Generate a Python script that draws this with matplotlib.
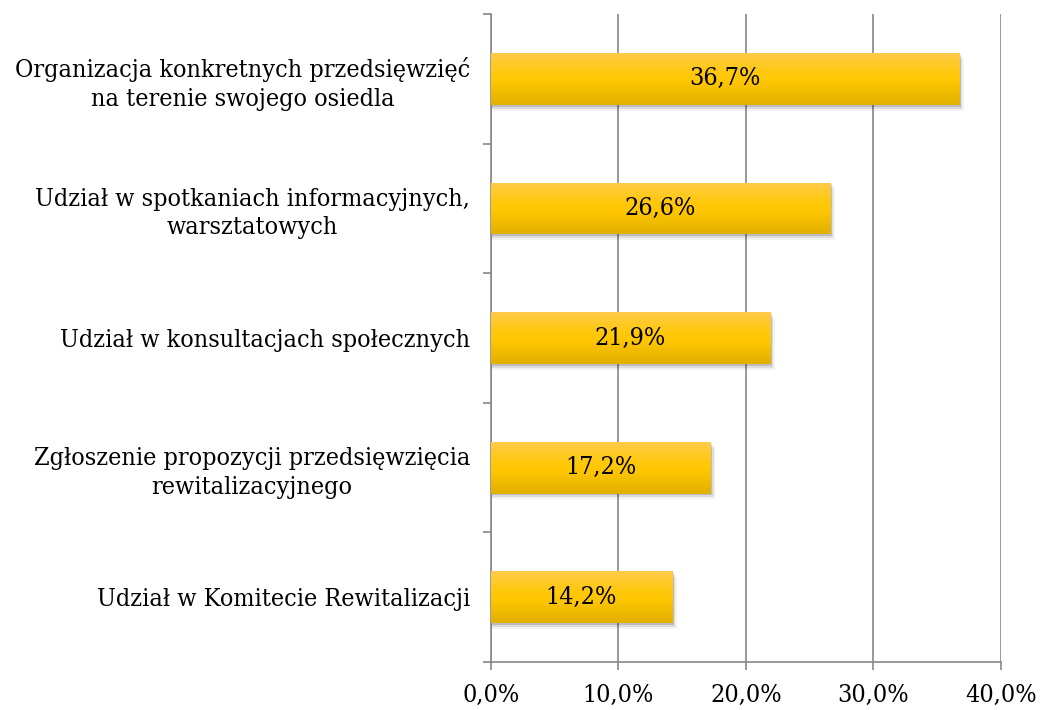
import numpy as np
import matplotlib.pyplot as plt
from matplotlib.colors import LinearSegmentedColormap
from matplotlib.patches import Rectangle

categories = [
    "Organizacja konkretnych przedsięwzięć\nna terenie swojego osiedla",
    "Udział w spotkaniach informacyjnych,\nwarsztatowych",
    "Udział w konsultacjach społecznych",
    "Zgłoszenie propozycji przedsięwzięcia\nrewitalizacyjnego",
    "Udział w Komitecie Rewitalizacji",
]
values = [36.7, 26.6, 21.9, 17.2, 14.2]
xticks = [0, 10, 20, 30, 40]

plt.rcParams['font.family'] = ['DejaVu Serif']
plt.rcParams['font.stretch'] = 'condensed'

fig = plt.figure(figsize=(10.4, 7.1), dpi=100)
ax = fig.add_axes([0.472, 0.0676, 0.4905, 0.9126])

n = len(categories)
ypos = np.arange(n)[::-1]
h = 0.4
fs = 18

grad = LinearSegmentedColormap.from_list(
    'gold', [(0, '#E2B000'), (0.45, '#FFC600'), (0.6, '#FFC80A'), (1, '#FFCB4A')])
img = np.linspace(0, 1, 100).reshape(-1, 1)

for y, v in zip(ypos, values):
    # soft shadow
    for k, a in enumerate([0.14, 0.09, 0.05]):
        d = 0.13 * (k + 1)
        ax.add_patch(Rectangle((0, y - h / 2 - 0.015 * (k + 1)), v + d, h,
                               facecolor='black', alpha=a, lw=0, zorder=2))
    bar = ax.barh(y, v, height=h, color='none', zorder=3)
    im = ax.imshow(img, cmap=grad, aspect='auto', origin='lower',
                   extent=(0, v, y - h / 2, y + h / 2), zorder=3)
    im.set_clip_path(bar.patches[0])
    ax.text(v / 2, y, f"{v:.1f}%".replace('.', ','), ha='center', va='center',
            fontsize=fs, color='black', zorder=4)

ax.set_xlim(0, 40)
ax.set_ylim(-0.5, n - 0.5)
ax.set_xticks(xticks)
ax.set_xticklabels([f"{t:.1f}%".replace('.', ',') for t in xticks], fontsize=fs)
ax.set_yticks(np.arange(n + 1) - 0.5)
ax.set_yticklabels([])
ax.set_yticks(ypos, minor=True)
ax.set_yticklabels(categories, minor=True, fontsize=fs, ha='right',
                   multialignment='center', linespacing=1.3)
ax.tick_params(axis='y', which='minor', length=0, pad=15)
ax.tick_params(axis='y', which='major', length=6, color='#888888', width=1.2)
ax.tick_params(axis='x', length=6, color='#888888', width=1.2, pad=10)

ax.grid(axis='x', color='#888888', lw=1.2, zorder=0)
ax.set_axisbelow(True)
for s in ['top', 'right']:
    ax.spines[s].set_visible(False)
for s in ['left', 'bottom']:
    ax.spines[s].set_color('#888888')
    ax.spines[s].set_linewidth(1.2)

fig.savefig('out.png', dpi=100)
